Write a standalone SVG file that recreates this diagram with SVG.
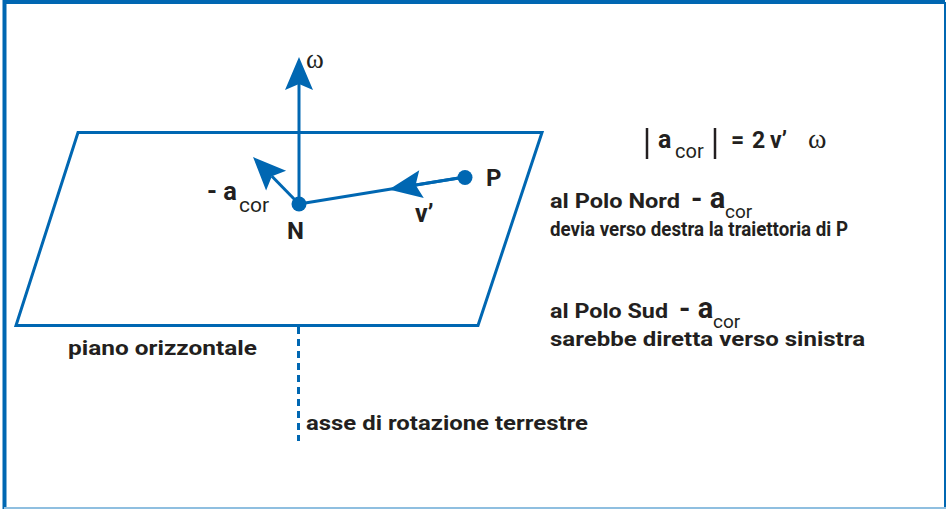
<svg xmlns="http://www.w3.org/2000/svg" width="946" height="509" viewBox="0 0 946 509">
<style>
.ln{fill:none;stroke:#0067b2;stroke-width:3}
.dot{fill:#0067b2}
.t{font-family:Roboto,"Liberation Sans",sans-serif;font-weight:bold;fill:#231f20}
.r{font-family:Roboto,"Liberation Sans",sans-serif;font-weight:normal;fill:#231f20}
.w{font-family:"Liberation Serif","DejaVu Serif",serif;fill:#231f20}
</style>
<defs>
<marker id="ah" markerUnits="userSpaceOnUse" markerWidth="40" markerHeight="40" viewBox="-8 -16 40 32" refX="0" refY="0" orient="auto" overflow="visible">
<path d="M27,0 L-6,-14 L0,0 L-6,14 Z" fill="#0067b2"/>
</marker>
</defs>
<rect x="0" y="0" width="946" height="509" fill="#ffffff"/>
<g id="frame">
<path d="M4.5,509 L4.5,2 L945,2" fill="none" stroke="#0067b2" stroke-width="4"/>
<line x1="945" y1="2" x2="945" y2="509" stroke="#0067b2" stroke-width="2"/>
<line x1="4" y1="508" x2="946" y2="508" stroke="#8fbfe0" stroke-width="2"/>
</g>
<g id="plane">
<polygon class="ln" points="78,132.5 542,132.5 478,325.5 16,325.5"/>
<text class="t" x="68" y="355" font-size="21" textLength="189" lengthAdjust="spacingAndGlyphs">piano orizzontale</text>
</g>
<g id="axis">
<line class="ln" x1="298.5" y1="327" x2="298.5" y2="441" stroke-dasharray="7,5"/>
<text class="t" x="306" y="430" font-size="21" textLength="282" lengthAdjust="spacingAndGlyphs">asse di rotazione terrestre</text>
</g>
<g id="connectors">
<line class="ln" x1="299" y1="204" x2="299" y2="84" marker-end="url(#ah)"/>
<line class="ln" x1="299" y1="204" x2="271.9" y2="176.3" marker-end="url(#ah)"/>
<line class="ln" x1="465" y1="177" x2="299" y2="204"/>
<line class="ln" x1="465" y1="177" x2="415.6" y2="185.05" marker-end="url(#ah)"/>
</g>
<g id="omega">
<text class="w" x="306" y="68" font-size="27">ω</text>
</g>
<g id="N">
<circle class="dot" cx="299" cy="204" r="7.5"/>
<text class="t" x="287" y="239" font-size="24">N</text>
</g>
<g id="P">
<circle class="dot" cx="465" cy="177.5" r="7.5"/>
<text class="t" x="486" y="186" font-size="24">P</text>
</g>
<g id="vprime">
<text class="t" x="415" y="222" font-size="25">v’</text>
</g>
<g id="minus-acor">
<text class="t" x="207" y="200" font-size="25" textLength="30" lengthAdjust="spacingAndGlyphs">- a</text>
<text class="r" x="239" y="212" font-size="21">cor</text>
</g>
<g id="formula">
<line x1="647" y1="128" x2="647" y2="159" stroke="#231f20" stroke-width="2.5"/>
<text class="t" x="658" y="148" font-size="25">a</text>
<text class="r" x="675" y="158" font-size="20">cor</text>
<line x1="715" y1="128" x2="715" y2="159" stroke="#231f20" stroke-width="2.5"/>
<text class="t" x="731" y="148" font-size="23">=</text>
<text class="t" x="752" y="148" font-size="23">2</text>
<text class="t" x="770" y="148" font-size="23">v’</text>
<text class="w" x="808" y="148" font-size="28">ω</text>
</g>
<g id="north">
<text class="t" x="550" y="208" font-size="21" textLength="130" lengthAdjust="spacingAndGlyphs">al Polo Nord</text>
<text class="t" x="691" y="208" font-size="29">- a</text>
<text class="r" x="725" y="218" font-size="19">cor</text>
<text class="t" x="550" y="236" font-size="21" textLength="298" lengthAdjust="spacingAndGlyphs">devia verso destra la traiettoria di P</text>
</g>
<g id="south">
<text class="t" x="550" y="318" font-size="21" textLength="118" lengthAdjust="spacingAndGlyphs">al Polo Sud</text>
<text class="t" x="679" y="318" font-size="29">- a</text>
<text class="r" x="713" y="328" font-size="19">cor</text>
<text class="t" x="550" y="346" font-size="21" textLength="315" lengthAdjust="spacingAndGlyphs">sarebbe diretta verso sinistra</text>
</g>
</svg>
